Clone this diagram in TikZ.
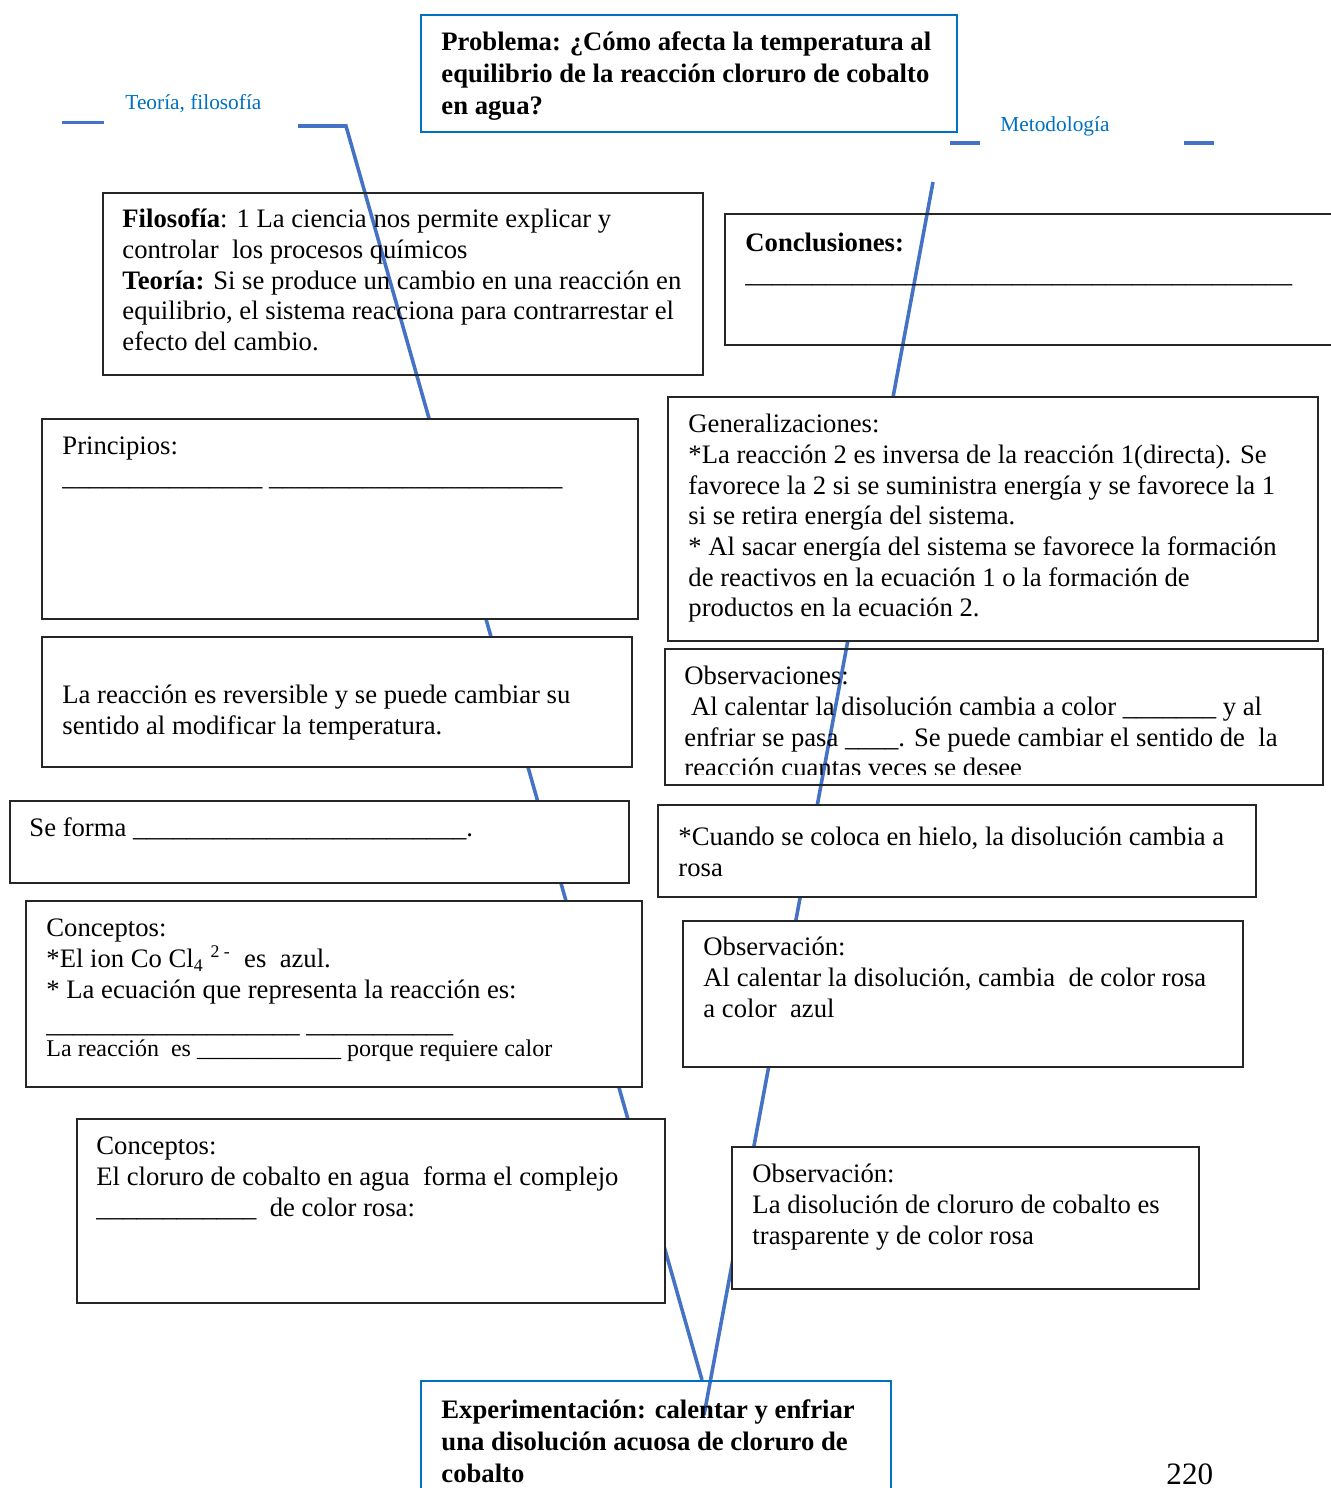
\documentclass[tikz,border=0pt]{standalone}
\usepackage{fontspec}
\setmainfont{Liberation Serif}
\definecolor{spine}{HTML}{4472C4}
\definecolor{wblue}{HTML}{0070C0}
\newcommand{\rayas}[1]{\foreach \kk in {1,...,#1}{\textunderscore}}
\begin{document}
\begin{tikzpicture}[x=0.45pt,y=-0.45pt,
 box/.style={draw=black!85, line width=0.9pt, inner sep=0pt, anchor=north west, fill=white},
 openbox/.style={draw=black!85, line width=0.9pt, inner sep=0pt, anchor=north west},
 bluebox/.style={draw=wblue, line width=1pt, inner sep=0pt, anchor=north west},
 sz/.style 2 args={minimum width=#1*0.45pt, minimum height=#2*0.45pt},
 txt/.style={anchor=north west, inner sep=0pt, align=left, font=\fontsize{12}{13.8}\selectfont},
 btxt/.style={anchor=north west, inner sep=0pt, align=left, font=\bfseries\fontsize{12}{14.4}\selectfont},
 lbl/.style={anchor=base west, inner sep=0pt, text=wblue, font=\fontsize{9.6}{11}\selectfont},
 spineln/.style={draw=spine, line width=1.6pt}]
\useasboundingbox (0,0) rectangle (1330,1488);

% spine coordinates
\coordinate (L0) at (62,122.5);
\coordinate (L1) at (104,122.5);
\coordinate (L2) at (298,126);
\coordinate (L3) at (346,126);
\coordinate (LE) at (702,1380);
\coordinate (R0) at (950,143);
\coordinate (R1) at (980,143);
\coordinate (R2) at (1184,143);
\coordinate (R3) at (1214,143);
\coordinate (RT) at (933,182);
\coordinate (RE) at (704,1415);

\draw[spineln] (L0) -- (L1);
\draw[spineln] (L2) -- (L3) -- (LE);
\draw[spineln] (R0) -- (R1);
\draw[spineln] (R2) -- (R3);
\draw[spineln] (RT) -- (RE);

% labels
\node[lbl] (teo) at (125,110) {Teoría, filosofía};
\node[lbl] (met) at (1000,132) {Metodología};

% boxes
\node[bluebox,sz={536}{117}] (prob) at (420,14) {};
\node[openbox,sz={640}{131}] (concl) at (724,213) {};
\node[openbox,sz={600}{182}] (filo) at (102,192) {};
\node[box,sz={596}{200}] (princ) at (41,418) {};
\node[box,sz={650}{244}] (gen) at (667,396) {};
\node[box,sz={590}{130}] (rev) at (41,636) {};
\node[openbox,sz={658}{136}] (obs) at (664,648) {};
\node[box,sz={619}{82}] (forma) at (9,800) {};
\node[box,sz={598}{92}] (cuando) at (657,804) {};
\node[box,sz={616}{186}] (conc1) at (25,900) {};
\node[box,sz={560}{146}] (obs1) at (682,920) {};
\node[box,sz={588}{184}] (conc2) at (76,1118) {};
\node[box,sz={467}{142}] (obs2) at (731,1146) {};
\node[bluebox,sz={470}{140}] (exp) at (420,1380) {};

% texts
\node[btxt] (probT) at (441,28) {\strut Problema: ¿Cómo afecta la temperatura al\\equilibrio de la reacción cloruro de cobalto\\en agua?};
\node[txt] (filoT) at (122,206) {\strut\textbf{Filosofía}: 1 La ciencia nos permite explicar y\\controlar~ los procesos químicos\\\textbf{Teoría:} Si se produce un cambio en una reacción en\\equilibrio, el sistema reacciona para contrarrestar el\\efecto del cambio.};
\node[txt] (conclT) at (745,230) {\strut\textbf{Conclusiones:}\\\rayas{41}};
\node[txt] (princT) at (62,433) {\strut Principios:\\\rayas{15} \rayas{22}};
\node[txt] (genT) at (688,411) {\strut Generalizaciones:\\*La reacción 2 es inversa de la reacción 1(directa). Se\\favorece la 2 si se suministra energía y se favorece la 1\\si se retira energía del sistema.\\* Al sacar energía del sistema se favorece la formación\\de reactivos en la ecuación 1 o la formación de\\productos en la ecuación 2.};
\node[txt] (revT) at (62,682) {\strut La reacción es reversible y se puede cambiar su\\sentido al modificar la temperatura.};
\begin{scope}
\clip (664,648) rectangle (1322,774);
\node[txt] (obsT) at (684,663) {\strut Observaciones:\\~Al calentar la disolución cambia a color \rayas{7} y al\\enfriar se pasa \rayas{4}. Se puede cambiar el sentido de~ la\\reacción cuantas veces se desee};
\end{scope}
\node[txt] (formaT) at (29,815) {\strut Se forma \rayas{25}.};
\node[txt] (cuandoT) at (678,824) {\strut *Cuando se coloca en hielo, la disolución cambia a\\rosa};
\node[txt] (conc1T) at (46,915) {\strut Conceptos:\\*El ion Co Cl\textsubscript{4} \textsuperscript{2 -}~ es~ azul.\\* La ecuación que representa la reacción es:\\[1.8pt]\rayas{19} \rayas{11}};
\node[anchor=base west, inner sep=0pt, font=\fontsize{10.8}{12.5}\selectfont] (conc1S) at (46,1056) {La reacción~ es \rayas{12} porque requiere calor};
\node[txt] (obs1T) at (703,934) {\strut Observación:\\Al calentar la disolución, cambia~ de color rosa\\a color~ azul};
\node[txt] (conc2T) at (96,1133) {\strut Conceptos:\\El cloruro de cobalto en agua~ forma el complejo\\\rayas{12}~ de color rosa:};
\node[txt] (obs2T) at (752,1161) {\strut Observación:\\La disolución de cloruro de cobalto es\\trasparente y de color rosa};
\node[btxt] (expT) at (441,1396) {\strut Experimentación: calentar y enfriar\\una disolución acuosa de cloruro de\\cobalto};
\node[anchor=base west, inner sep=0pt, font=\fontsize{14}{16}\selectfont] (page) at (1166,1484) {220};
\end{tikzpicture}
\end{document}
